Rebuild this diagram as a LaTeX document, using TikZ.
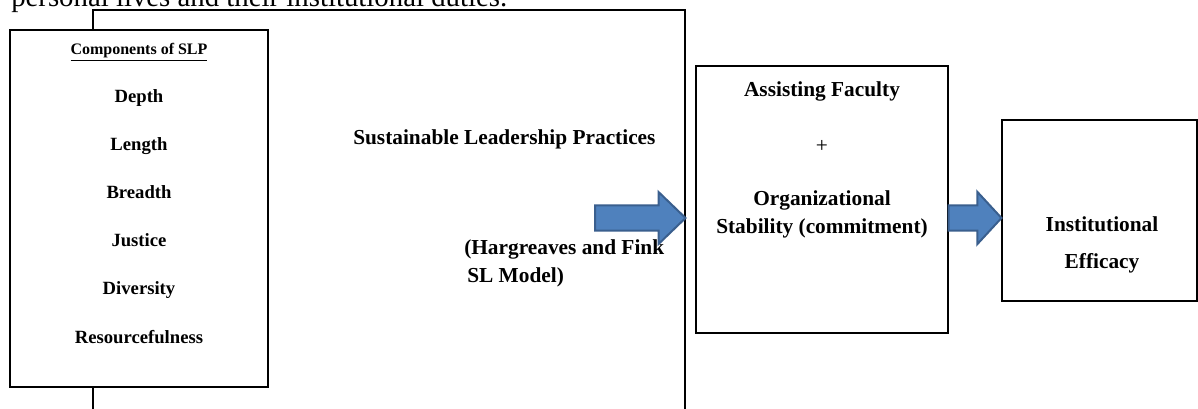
\documentclass[tikz,border=0pt]{standalone}
\usepackage{fontspec}
\setmainfont{Liberation Serif}
\usetikzlibrary{calc}

\definecolor{arrowfill}{HTML}{4F81BD}
\definecolor{arrowline}{HTML}{3A5F8E}

% flat block arrow from #1 to the tip #2, head length #3
\newcommand{\blockarrow}[3]{%
  \draw[blockarr] let \p1=(#1), \p2=(#2) in
    (\x1,\y1+9.5pt) -- (\x2-#3,\y1+9.5pt) -- (\x2-#3,\y1+19.5pt) -- (\x2,\y1)
    -- (\x2-#3,\y1-19.5pt) -- (\x2-#3,\y1-9.5pt) -- (\x1,\y1-9.5pt) -- cycle;}

\begin{document}
\begin{tikzpicture}[x=0.75pt, y=-0.75pt,
    box/.style={draw, line width=0.8pt, fill=white, inner sep=0pt},
    item/.style={anchor=base, inner sep=0pt, font=\fontsize{14}{17}\selectfont\bfseries},
    label/.style={inner sep=0pt, font=\fontsize{16}{19}\selectfont\bfseries},
    blockarr/.style={fill=arrowfill, draw=arrowline, line width=1.5pt, line join=miter}]
    \useasboundingbox (0,0) rectangle (1198,409);
    \clip (0,0) rectangle (1198,409);

    % last line of the running text
    \node[anchor=base west, inner sep=0pt, font=\fontsize{21.6}{26}\selectfont] (prevline)
        at (11,6.5) {personal lives and their institutional duties.};

    % Boxes
    \node[box, minimum width=444pt, minimum height=345pt] (slm) at (389,240) {};
    \node[box, minimum width=193.5pt, minimum height=267.75pt] (slp) at (139,208.5) {};
    \node[box, minimum width=189pt, minimum height=200.25pt] (mid) at (822,199.5) {};
    \node[box, minimum width=146.25pt, minimum height=135.75pt] (eff) at (1099.5,210.5) {};

    % Components list
    \node[item, font=\fontsize{12}{14}\selectfont\bfseries] (comp) at (139,55) {\underline{Components of SLP}};
    \foreach \name/\txt [count=\i from 0] in {depth/Depth, length/Length, breadth/Breadth,
        justice/Justice, diversity/Diversity, resource/Resourcefulness} {
        \node[item] (\name) at (139,103+48*\i) {\txt};
    }

    % Practices
    \node[label, anchor=base west] (slpr) at (353,145) {Sustainable Leadership Practices};
    \node[label, anchor=base west] (hf) at (464,255) {(Hargreaves and Fink};
    \node[label, anchor=base west] (slmod) at (467,283) {SL Model)};

    % Middle box
    \node[label, anchor=base] (assist) at (822,97) {Assisting Faculty};
    \node[inner sep=0pt, font=\fontsize{16}{19}\selectfont] (plus) at (822,146) {+};
    \node[label, anchor=base] (org) at (822,206) {Organizational};
    \node[label, anchor=base] (stab) at (822,234) {Stability (commitment)};

    % Outcome
    \node[label, anchor=base] (inst) at (1102,232) {Institutional};
    \node[label, anchor=base] (effic) at (1102,269) {Efficacy};

    % Arrows
    \coordinate (a1tail) at (595,218);
    \blockarrow{a1tail}{slm.east |- a1tail}{20.25pt}
    \blockarrow{mid.east |- a1tail}{eff.west |- a1tail}{18pt}

\end{tikzpicture}
\end{document}
